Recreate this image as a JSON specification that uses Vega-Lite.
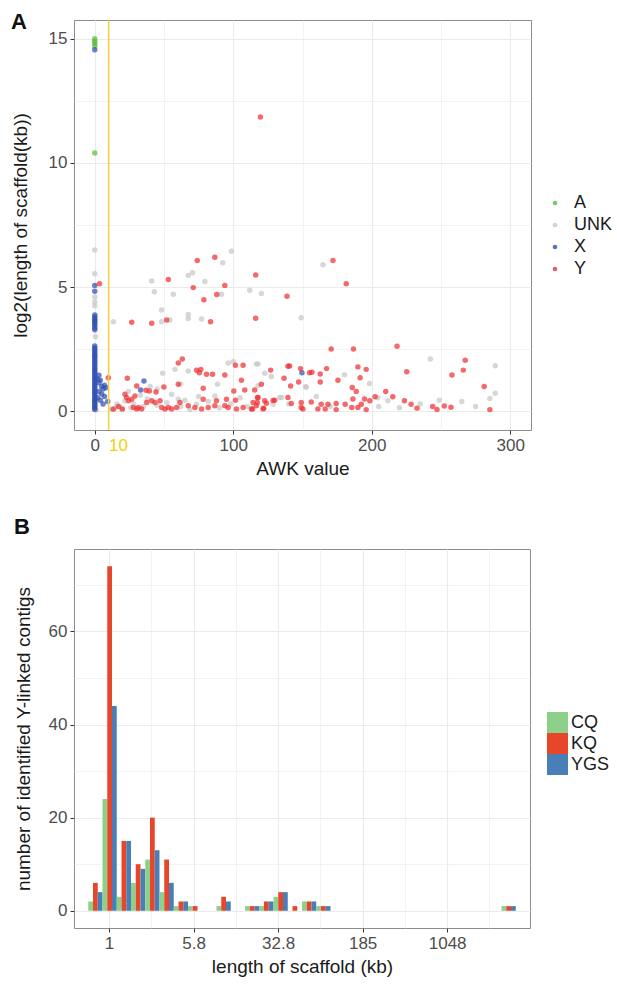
{
  "$schema": "https://vega.github.io/schema/vega-lite/v6.json",
  "padding": {"left": 10, "top": 10, "right": 5, "bottom": 5},
  "background": "white",
  "config": {
    "font": "Liberation Sans",
    "view": {"stroke": "#8c8c8c", "strokeWidth": 1},
    "axis": {"labelFontSize": 17, "labelColor": "#4d4d4d", "titleFontSize": 19, "titleFontWeight": "normal", "titleColor": "#1a1a1a", "gridColor": "#ebebeb", "domain": false, "tickColor": "#333333", "tickSize": 4, "labelPadding": 3},
    "legend": {"labelFontSize": 18, "labelColor": "#1a1a1a"},
    "title": {"fontSize": 22, "fontWeight": "bold", "anchor": "start", "color": "#111111"}
  },
  "spacing": 36,
  "resolve": {"scale": {"color": "independent"}, "legend": {"color": "independent"}},
  "vconcat": [
    {
      "title": {"text": "A", "frame": "bounds", "offset": 0, "dy": 15},
      "width": 457,
      "height": 410,
      "encoding": {
        "x": {
          "field": "awk", "type": "quantitative", "title": "AWK value",
          "scale": {"domain": [-15, 315], "nice": false, "zero": false},
          "axis": {
            "values": [0, 10, 50, 100, 150, 200, 250, 300],
            "labelExpr": "(datum.value == 50 || datum.value == 150 || datum.value == 250) ? '' : datum.label",
            "labelOverlap": false,
            "labelColor": {"condition": {"test": "datum.value == 10", "value": "#f2d200"}, "value": "#4d4d4d"},
            "labelAlign": {"condition": {"test": "datum.value == 10", "value": "left"}, "value": "center"},
            "gridColor": {"condition": {"test": "datum.value == 10", "value": "transparent"}, "value": "#ebebeb"},
            "gridWidth": {"condition": {"test": "datum.value % 100 != 0", "value": 0.6}, "value": 1.1},
            "tickColor": {"condition": {"test": "datum.value % 100 != 0", "value": "transparent"}, "value": "#333333"},
            "titlePadding": 6
          }
        }
      },
      "layer": [
        {
          "data": {"values": [
            {"awk": 0, "len": 6.49, "chr": "UNK"}, {"awk": 0, "len": 5.54, "chr": "UNK"}, {"awk": 0, "len": 4.6, "chr": "UNK"}, {"awk": 0, "len": 4.4, "chr": "UNK"}, {"awk": 0, "len": 4.25, "chr": "UNK"}, {"awk": 0.5, "len": 3.0, "chr": "UNK"}, {"awk": 0, "len": 2.2, "chr": "UNK"}, {"awk": 0, "len": 0.1, "chr": "UNK"}, {"awk": 0, "len": 0.2, "chr": "UNK"}, {"awk": 0.5, "len": 0.3, "chr": "UNK"}, {"awk": 1, "len": 0.05, "chr": "UNK"}, {"awk": 0, "len": 0.4, "chr": "UNK"},
            {"awk": 98.7, "len": 6.44, "chr": "UNK"}, {"awk": 92.4, "len": 5.98, "chr": "UNK"}, {"awk": 41.1, "len": 5.25, "chr": "UNK"}, {"awk": 43, "len": 4.81, "chr": "UNK"}, {"awk": 56.7, "len": 4.71, "chr": "UNK"}, {"awk": 67.5, "len": 5.47, "chr": "UNK"}, {"awk": 70.6, "len": 5.58, "chr": "UNK"}, {"awk": 79.5, "len": 5.23, "chr": "UNK"}, {"awk": 91.5, "len": 4.71, "chr": "UNK"}, {"awk": 111.9, "len": 4.87, "chr": "UNK"}, {"awk": 120.3, "len": 4.74, "chr": "UNK"}, {"awk": 48.3, "len": 4.08, "chr": "UNK"}, {"awk": 67.5, "len": 3.9, "chr": "UNK"}, {"awk": 67.5, "len": 3.74, "chr": "UNK"}, {"awk": 77.1, "len": 3.72, "chr": "UNK"}, {"awk": 54.3, "len": 3.68, "chr": "UNK"}, {"awk": 48.3, "len": 3.61, "chr": "UNK"}, {"awk": 13.4, "len": 3.61, "chr": "UNK"}, {"awk": 149, "len": 3.77, "chr": "UNK"}, {"awk": 164.8, "len": 5.9, "chr": "UNK"},
            {"awk": 49, "len": 1.53, "chr": "UNK"}, {"awk": 57.9, "len": 1.69, "chr": "UNK"}, {"awk": 67.5, "len": 1.62, "chr": "UNK"}, {"awk": 96.3, "len": 1.95, "chr": "UNK"}, {"awk": 117.9, "len": 1.91, "chr": "UNK"}, {"awk": 88.6, "len": 1.09, "chr": "UNK"}, {"awk": 122.7, "len": 1.53, "chr": "UNK"}, {"awk": 127.5, "len": 1.4, "chr": "UNK"}, {"awk": 133.5, "len": 0.56, "chr": "UNK"}, {"awk": 152.7, "len": 0.98, "chr": "UNK"}, {"awk": 55.5, "len": 0.69, "chr": "UNK"}, {"awk": 24.3, "len": 0.8, "chr": "UNK"}, {"awk": 60.3, "len": 0.49, "chr": "UNK"}, {"awk": 73.5, "len": 0.29, "chr": "UNK"}, {"awk": 86.7, "len": 0.62, "chr": "UNK"}, {"awk": 21.8, "len": 0.43, "chr": "UNK"}, {"awk": 19.4, "len": 0.07, "chr": "UNK"}, {"awk": 14.6, "len": 0.14, "chr": "UNK"}, {"awk": 68.7, "len": 0.07, "chr": "UNK"}, {"awk": 180.3, "len": 1.47, "chr": "UNK"}, {"awk": 198.4, "len": 1.12, "chr": "UNK"}, {"awk": 152.2, "len": 0.99, "chr": "UNK"}, {"awk": 242.3, "len": 2.11, "chr": "UNK"}, {"awk": 289.2, "len": 1.84, "chr": "UNK"}, {"awk": 289.2, "len": 0.73, "chr": "UNK"}, {"awk": 285.3, "len": 0.52, "chr": "UNK"}, {"awk": 211.6, "len": 0.43, "chr": "UNK"}, {"awk": 204.4, "len": 0.55, "chr": "UNK"}, {"awk": 248.8, "len": 0.45, "chr": "UNK"}, {"awk": 134.8, "len": 0.56, "chr": "UNK"}, {"awk": 128.7, "len": 0.29, "chr": "UNK"}, {"awk": 117.9, "len": 1.03, "chr": "UNK"}, {"awk": 116.7, "len": 1.91, "chr": "UNK"},
            {"awk": 12, "len": 0.1, "chr": "UNK"}, {"awk": 16, "len": 0.3, "chr": "UNK"}, {"awk": 18, "len": 0.2, "chr": "UNK"}, {"awk": 26, "len": 0.15, "chr": "UNK"}, {"awk": 28, "len": 0.3, "chr": "UNK"}, {"awk": 35, "len": 0.2, "chr": "UNK"}, {"awk": 38, "len": 0.5, "chr": "UNK"}, {"awk": 45, "len": 0.25, "chr": "UNK"}, {"awk": 52, "len": 0.35, "chr": "UNK"}, {"awk": 62, "len": 0.2, "chr": "UNK"}, {"awk": 65, "len": 0.45, "chr": "UNK"}, {"awk": 75, "len": 0.6, "chr": "UNK"}, {"awk": 82, "len": 0.4, "chr": "UNK"}, {"awk": 90, "len": 0.15, "chr": "UNK"}, {"awk": 98, "len": 0.3, "chr": "UNK"}, {"awk": 105, "len": 0.55, "chr": "UNK"}, {"awk": 110, "len": 0.2, "chr": "UNK"}, {"awk": 45, "len": 0.9, "chr": "UNK"}, {"awk": 33, "len": 0.65, "chr": "UNK"}, {"awk": 140, "len": 0.3, "chr": "UNK"}, {"awk": 160, "len": 0.6, "chr": "UNK"}, {"awk": 170, "len": 0.2, "chr": "UNK"}, {"awk": 205, "len": 0.2, "chr": "UNK"}, {"awk": 220, "len": 0.15, "chr": "UNK"}, {"awk": 235, "len": 0.3, "chr": "UNK"}, {"awk": 265, "len": 0.4, "chr": "UNK"}, {"awk": 275, "len": 0.2, "chr": "UNK"}, {"awk": 40, "len": 1.0, "chr": "UNK"}, {"awk": 100, "len": 2.0, "chr": "UNK"}, {"awk": 62, "len": 1.1, "chr": "UNK"},
            {"awk": 0, "len": 15.0, "chr": "A"}, {"awk": 0, "len": 14.9, "chr": "A"}, {"awk": 0, "len": 14.8, "chr": "A"}, {"awk": 0, "len": 14.7, "chr": "A"}, {"awk": 0, "len": 10.4, "chr": "A"},
            {"awk": 0, "len": 14.55, "chr": "X"}, {"awk": 0, "len": 5.07, "chr": "X"}, {"awk": 0, "len": 4.83, "chr": "X"}, {"awk": 0, "len": 3.88, "chr": "X"}, {"awk": 0, "len": 3.8, "chr": "X"}, {"awk": 0, "len": 3.72, "chr": "X"}, {"awk": 0, "len": 3.66, "chr": "X"}, {"awk": 0, "len": 3.6, "chr": "X"}, {"awk": 0, "len": 3.52, "chr": "X"}, {"awk": 0, "len": 3.45, "chr": "X"}, {"awk": 0, "len": 3.35, "chr": "X"}, {"awk": 0, "len": 3.28, "chr": "X"},
            {"awk": 0, "len": 2.63, "chr": "X"}, {"awk": 0, "len": 2.55, "chr": "X"}, {"awk": 0, "len": 2.47, "chr": "X"}, {"awk": 0, "len": 2.4, "chr": "X"}, {"awk": 0, "len": 2.32, "chr": "X"}, {"awk": 0, "len": 2.25, "chr": "X"}, {"awk": 0, "len": 2.18, "chr": "X"}, {"awk": 0, "len": 2.1, "chr": "X"}, {"awk": 0, "len": 2.02, "chr": "X"}, {"awk": 0, "len": 1.95, "chr": "X"}, {"awk": 0, "len": 1.88, "chr": "X"}, {"awk": 0, "len": 1.8, "chr": "X"}, {"awk": 0, "len": 1.72, "chr": "X"}, {"awk": 0, "len": 1.65, "chr": "X"}, {"awk": 0, "len": 1.58, "chr": "X"}, {"awk": 0, "len": 1.5, "chr": "X"}, {"awk": 0, "len": 1.42, "chr": "X"}, {"awk": 0, "len": 1.35, "chr": "X"}, {"awk": 0, "len": 1.28, "chr": "X"}, {"awk": 0, "len": 1.2, "chr": "X"}, {"awk": 0, "len": 1.12, "chr": "X"}, {"awk": 0, "len": 1.05, "chr": "X"}, {"awk": 0, "len": 0.98, "chr": "X"}, {"awk": 0, "len": 0.9, "chr": "X"}, {"awk": 0, "len": 0.82, "chr": "X"}, {"awk": 0, "len": 0.75, "chr": "X"}, {"awk": 0, "len": 0.68, "chr": "X"}, {"awk": 0, "len": 0.6, "chr": "X"}, {"awk": 0, "len": 0.52, "chr": "X"}, {"awk": 0, "len": 0.45, "chr": "X"}, {"awk": 0, "len": 0.38, "chr": "X"}, {"awk": 0, "len": 0.3, "chr": "X"}, {"awk": 0, "len": 0.22, "chr": "X"}, {"awk": 0, "len": 0.15, "chr": "X"}, {"awk": 0, "len": 0.08, "chr": "X"},
            {"awk": 2, "len": 1.3, "chr": "X"}, {"awk": 3, "len": 1.15, "chr": "X"}, {"awk": 4, "len": 1.25, "chr": "X"}, {"awk": 5, "len": 1.0, "chr": "X"}, {"awk": 6, "len": 0.9, "chr": "X"}, {"awk": 7, "len": 1.05, "chr": "X"}, {"awk": 8, "len": 0.95, "chr": "X"}, {"awk": 3, "len": 0.8, "chr": "X"}, {"awk": 5, "len": 0.7, "chr": "X"}, {"awk": 2, "len": 0.55, "chr": "X"}, {"awk": 4, "len": 0.45, "chr": "X"}, {"awk": 6, "len": 0.3, "chr": "X"}, {"awk": 7, "len": 0.6, "chr": "X"}, {"awk": 3, "len": 1.45, "chr": "X"}, {"awk": 9.4, "len": 0.4, "chr": "X"}, {"awk": 35.5, "len": 1.22, "chr": "X"}, {"awk": 33.1, "len": 0.86, "chr": "X"}, {"awk": 149.6, "len": 1.55, "chr": "X"},
            {"awk": 3.4, "len": 5.14, "chr": "Y"}, {"awk": 74, "len": 6.07, "chr": "Y"}, {"awk": 86.7, "len": 6.2, "chr": "Y"}, {"awk": 53.1, "len": 5.31, "chr": "Y"}, {"awk": 71.1, "len": 4.98, "chr": "Y"}, {"awk": 93.9, "len": 5.07, "chr": "Y"}, {"awk": 116.2, "len": 5.49, "chr": "Y"}, {"awk": 88.1, "len": 4.7, "chr": "Y"}, {"awk": 78.8, "len": 4.49, "chr": "Y"}, {"awk": 138.8, "len": 4.63, "chr": "Y"}, {"awk": 26.7, "len": 3.59, "chr": "Y"}, {"awk": 41.1, "len": 3.55, "chr": "Y"}, {"awk": 51.9, "len": 3.68, "chr": "Y"}, {"awk": 83.6, "len": 3.61, "chr": "Y"}, {"awk": 116.2, "len": 3.75, "chr": "Y"}, {"awk": 172, "len": 6.07, "chr": "Y"}, {"awk": 181.6, "len": 5.14, "chr": "Y"}, {"awk": 119.6, "len": 11.85, "chr": "Y"},
            {"awk": 9.8, "len": 1.35, "chr": "Y"}, {"awk": 23.5, "len": 1.33, "chr": "Y"}, {"awk": 30.3, "len": 1.02, "chr": "Y"}, {"awk": 37, "len": 0.85, "chr": "Y"}, {"awk": 39.4, "len": 0.82, "chr": "Y"}, {"awk": 44.2, "len": 0.78, "chr": "Y"}, {"awk": 49.9, "len": 0.98, "chr": "Y"}, {"awk": 60.3, "len": 1.95, "chr": "Y"}, {"awk": 63.2, "len": 2.11, "chr": "Y"}, {"awk": 60.3, "len": 1.09, "chr": "Y"}, {"awk": 73.5, "len": 1.65, "chr": "Y"}, {"awk": 76.6, "len": 1.69, "chr": "Y"}, {"awk": 75.5, "len": 1.55, "chr": "Y"}, {"awk": 80.7, "len": 1.49, "chr": "Y"}, {"awk": 85, "len": 1.49, "chr": "Y"}, {"awk": 78.3, "len": 0.93, "chr": "Y"}, {"awk": 93.9, "len": 1.46, "chr": "Y"}, {"awk": 101.6, "len": 1.86, "chr": "Y"}, {"awk": 107.1, "len": 1.86, "chr": "Y"}, {"awk": 105.9, "len": 1.25, "chr": "Y"}, {"awk": 100.4, "len": 0.82, "chr": "Y"}, {"awk": 108.3, "len": 0.86, "chr": "Y"}, {"awk": 115.5, "len": 0.86, "chr": "Y"}, {"awk": 120.3, "len": 1.09, "chr": "Y"}, {"awk": 127, "len": 1.66, "chr": "Y"}, {"awk": 136.7, "len": 1.33, "chr": "Y"}, {"awk": 139.5, "len": 1.82, "chr": "Y"}, {"awk": 140.7, "len": 1.83, "chr": "Y"}, {"awk": 141.4, "len": 1.02, "chr": "Y"}, {"awk": 147.2, "len": 1.18, "chr": "Y"}, {"awk": 148.6, "len": 1.72, "chr": "Y"}, {"awk": 155.1, "len": 1.55, "chr": "Y"}, {"awk": 156.8, "len": 1.57, "chr": "Y"}, {"awk": 162.8, "len": 1.5, "chr": "Y"}, {"awk": 162.8, "len": 1.18, "chr": "Y"}, {"awk": 167.4, "len": 1.72, "chr": "Y"}, {"awk": 170.7, "len": 2.51, "chr": "Y"}, {"awk": 186.8, "len": 2.51, "chr": "Y"}, {"awk": 218.3, "len": 2.62, "chr": "Y"}, {"awk": 267.5, "len": 2.06, "chr": "Y"}, {"awk": 266.1, "len": 1.66, "chr": "Y"}, {"awk": 257.9, "len": 1.46, "chr": "Y"}, {"awk": 225.3, "len": 1.59, "chr": "Y"}, {"awk": 281.2, "len": 1.0, "chr": "Y"}, {"awk": 175.6, "len": 1.25, "chr": "Y"}, {"awk": 190, "len": 1.79, "chr": "Y"}, {"awk": 191.6, "len": 1.35, "chr": "Y"}, {"awk": 196, "len": 1.69, "chr": "Y"}, {"awk": 185.9, "len": 0.96, "chr": "Y"}, {"awk": 188.8, "len": 0.8, "chr": "Y"},
            {"awk": 29, "len": 0.62, "chr": "Y"}, {"awk": 117.9, "len": 0.56, "chr": "Y"}, {"awk": 78.3, "len": 0.49, "chr": "Y"}, {"awk": 87.9, "len": 0.43, "chr": "Y"}, {"awk": 95.1, "len": 0.49, "chr": "Y"}, {"awk": 101.6, "len": 0.45, "chr": "Y"}, {"awk": 122.7, "len": 0.43, "chr": "Y"}, {"awk": 129.9, "len": 0.45, "chr": "Y"}, {"awk": 149.1, "len": 0.36, "chr": "Y"}, {"awk": 156.3, "len": 0.38, "chr": "Y"}, {"awk": 168.4, "len": 0.29, "chr": "Y"}, {"awk": 210.1, "len": 0.8, "chr": "Y"}, {"awk": 215.2, "len": 0.59, "chr": "Y"}, {"awk": 202.4, "len": 0.59, "chr": "Y"}, {"awk": 198.6, "len": 0.43, "chr": "Y"}, {"awk": 223.6, "len": 0.43, "chr": "Y"}, {"awk": 228.4, "len": 0.29, "chr": "Y"}, {"awk": 232.7, "len": 0.13, "chr": "Y"}, {"awk": 244, "len": 0.2, "chr": "Y"}, {"awk": 247.1, "len": 0.08, "chr": "Y"}, {"awk": 252.4, "len": 0.22, "chr": "Y"}, {"awk": 257.2, "len": 0.17, "chr": "Y"}, {"awk": 285.3, "len": 0.07, "chr": "Y"}, {"awk": 186.4, "len": 0.5, "chr": "Y"}, {"awk": 194.8, "len": 0.5, "chr": "Y"}, {"awk": 192.4, "len": 0.29, "chr": "Y"}, {"awk": 190, "len": 0.16, "chr": "Y"}, {"awk": 196, "len": 0.07, "chr": "Y"}, {"awk": 185.6, "len": 0.16, "chr": "Y"}, {"awk": 180.8, "len": 0.29, "chr": "Y"}, {"awk": 174.3, "len": 0.32, "chr": "Y"}, {"awk": 174.3, "len": 0.07, "chr": "Y"}, {"awk": 166.4, "len": 0.1, "chr": "Y"}, {"awk": 163.5, "len": 0.29, "chr": "Y"}, {"awk": 161.1, "len": 0.1, "chr": "Y"}, {"awk": 150.3, "len": 0.1, "chr": "Y"}, {"awk": 149, "len": 0.16, "chr": "Y"}, {"awk": 141.9, "len": 0.32, "chr": "Y"}, {"awk": 139.5, "len": 0.56, "chr": "Y"}, {"awk": 122, "len": 0.13, "chr": "Y"}, {"awk": 123.9, "len": 0.33, "chr": "Y"}, {"awk": 117.4, "len": 0.36, "chr": "Y"}, {"awk": 117.4, "len": 0.56, "chr": "Y"}, {"awk": 114, "len": 0.1, "chr": "Y"}, {"awk": 128.7, "len": 0.44, "chr": "Y"},
            {"awk": 24.3, "len": 0.43, "chr": "Y"}, {"awk": 27.9, "len": 0.16, "chr": "Y"}, {"awk": 30.3, "len": 0.1, "chr": "Y"}, {"awk": 31.5, "len": 0.16, "chr": "Y"}, {"awk": 33.9, "len": 0.1, "chr": "Y"}, {"awk": 41.1, "len": 0.43, "chr": "Y"}, {"awk": 43.5, "len": 0.36, "chr": "Y"}, {"awk": 47.1, "len": 0.43, "chr": "Y"}, {"awk": 48.3, "len": 0.16, "chr": "Y"}, {"awk": 50.7, "len": 0.1, "chr": "Y"}, {"awk": 53.1, "len": 0.16, "chr": "Y"}, {"awk": 55.5, "len": 0.1, "chr": "Y"}, {"awk": 59.1, "len": 0.16, "chr": "Y"}, {"awk": 67.5, "len": 0.23, "chr": "Y"}, {"awk": 72.3, "len": 0.16, "chr": "Y"}, {"awk": 77.1, "len": 0.1, "chr": "Y"}, {"awk": 81.9, "len": 0.16, "chr": "Y"}, {"awk": 86.7, "len": 0.23, "chr": "Y"}, {"awk": 93.9, "len": 0.23, "chr": "Y"}, {"awk": 96.3, "len": 0.16, "chr": "Y"}, {"awk": 102.3, "len": 0.1, "chr": "Y"}, {"awk": 107.1, "len": 0.16, "chr": "Y"}, {"awk": 113.1, "len": 0.1, "chr": "Y"}, {"awk": 114.3, "len": 0.36, "chr": "Y"}, {"awk": 116.7, "len": 0.23, "chr": "Y"}, {"awk": 121.5, "len": 0.1, "chr": "Y"}, {"awk": 21.8, "len": 0.69, "chr": "Y"}, {"awk": 26.7, "len": 0.49, "chr": "Y"}, {"awk": 37.5, "len": 0.36, "chr": "Y"}, {"awk": 61.5, "len": 0.36, "chr": "Y"}, {"awk": 13.4, "len": 0.09, "chr": "Y"}, {"awk": 23, "len": 0.56, "chr": "Y"}, {"awk": 20, "len": 0.1, "chr": "Y"}, {"awk": 17, "len": 0.2, "chr": "Y"}
          ]},
          "mark": {"type": "circle", "size": 30, "opacity": 0.72},
          "encoding": {
            "y": {
              "field": "len", "type": "quantitative", "title": "log2(length of scaffold(kb))",
              "scale": {"domain": [-0.75, 15.75], "nice": false, "zero": false},
              "axis": {
                "values": [0, 2.5, 5, 7.5, 10, 12.5, 15],
                "labelExpr": "datum.value % 5 == 0 ? datum.label : ''",
                "gridWidth": {"condition": {"test": "datum.value % 5 != 0", "value": 0.6}, "value": 1.1},
                "tickColor": {"condition": {"test": "datum.value % 5 != 0", "value": "transparent"}, "value": "#333333"},
                "titlePadding": 18
              }
            },
            "color": {
              "field": "chr", "type": "nominal",
              "scale": {"domain": ["A", "UNK", "X", "Y"], "range": ["#5dbb3f", "#c8c8c8", "#2f4fb3", "#ee2f33"]},
              "legend": {"title": null, "orient": "none", "legendX": 472, "legendY": 174, "symbolType": "circle", "symbolSize": 22, "labelOffset": 10, "rowPadding": 4, "labelFontSize": 18, "symbolOpacity": 0.8}
            }
          }
        },
        {
          "data": {"values": [{"awk": 10}]},
          "mark": {"type": "rule", "color": "#f7cf3d", "strokeWidth": 1.5},
          "encoding": {}
        }
      ]
    },
    {
      "title": {"text": "B", "frame": "bounds", "offset": 10},
      "width": 456,
      "height": 379,
      "data": {"values": [
        {"bin": 0, "log2_bin_start": -0.422, "series": "CQ", "count": 2}, {"bin": 0, "log2_bin_start": -0.422, "series": "KQ", "count": 6}, {"bin": 0, "log2_bin_start": -0.422, "series": "YGS", "count": 4},
        {"bin": 1, "log2_bin_start": -0.013, "series": "CQ", "count": 24}, {"bin": 1, "log2_bin_start": -0.013, "series": "KQ", "count": 74}, {"bin": 1, "log2_bin_start": -0.013, "series": "YGS", "count": 44},
        {"bin": 2, "log2_bin_start": 0.395, "series": "CQ", "count": 3}, {"bin": 2, "log2_bin_start": 0.395, "series": "KQ", "count": 15}, {"bin": 2, "log2_bin_start": 0.395, "series": "YGS", "count": 15},
        {"bin": 3, "log2_bin_start": 0.804, "series": "CQ", "count": 6}, {"bin": 3, "log2_bin_start": 0.804, "series": "KQ", "count": 10}, {"bin": 3, "log2_bin_start": 0.804, "series": "YGS", "count": 9},
        {"bin": 4, "log2_bin_start": 1.212, "series": "CQ", "count": 11}, {"bin": 4, "log2_bin_start": 1.212, "series": "KQ", "count": 20}, {"bin": 4, "log2_bin_start": 1.212, "series": "YGS", "count": 13},
        {"bin": 5, "log2_bin_start": 1.621, "series": "CQ", "count": 4}, {"bin": 5, "log2_bin_start": 1.621, "series": "KQ", "count": 11}, {"bin": 5, "log2_bin_start": 1.621, "series": "YGS", "count": 6},
        {"bin": 6, "log2_bin_start": 2.03, "series": "CQ", "count": 1}, {"bin": 6, "log2_bin_start": 2.03, "series": "KQ", "count": 2}, {"bin": 6, "log2_bin_start": 2.03, "series": "YGS", "count": 2},
        {"bin": 7, "log2_bin_start": 2.438, "series": "CQ", "count": 1}, {"bin": 7, "log2_bin_start": 2.438, "series": "KQ", "count": 1},
        {"bin": 9, "log2_bin_start": 3.255, "series": "CQ", "count": 1}, {"bin": 9, "log2_bin_start": 3.255, "series": "KQ", "count": 3}, {"bin": 9, "log2_bin_start": 3.255, "series": "YGS", "count": 2},
        {"bin": 11, "log2_bin_start": 4.073, "series": "CQ", "count": 1}, {"bin": 11, "log2_bin_start": 4.073, "series": "KQ", "count": 1}, {"bin": 11, "log2_bin_start": 4.073, "series": "YGS", "count": 1},
        {"bin": 12, "log2_bin_start": 4.481, "series": "CQ", "count": 1}, {"bin": 12, "log2_bin_start": 4.481, "series": "KQ", "count": 2}, {"bin": 12, "log2_bin_start": 4.481, "series": "YGS", "count": 2},
        {"bin": 13, "log2_bin_start": 4.89, "series": "CQ", "count": 3}, {"bin": 13, "log2_bin_start": 4.89, "series": "KQ", "count": 4}, {"bin": 13, "log2_bin_start": 4.89, "series": "YGS", "count": 4},
        {"bin": 14, "log2_bin_start": 5.298, "series": "KQ", "count": 1},
        {"bin": 15, "log2_bin_start": 5.707, "series": "CQ", "count": 2}, {"bin": 15, "log2_bin_start": 5.707, "series": "KQ", "count": 2}, {"bin": 15, "log2_bin_start": 5.707, "series": "YGS", "count": 2},
        {"bin": 16, "log2_bin_start": 6.116, "series": "CQ", "count": 1}, {"bin": 16, "log2_bin_start": 6.116, "series": "KQ", "count": 1}, {"bin": 16, "log2_bin_start": 6.116, "series": "YGS", "count": 1},
        {"bin": 29, "log2_bin_start": 11.427, "series": "CQ", "count": 1}, {"bin": 29, "log2_bin_start": 11.427, "series": "KQ", "count": 1}, {"bin": 29, "log2_bin_start": 11.427, "series": "YGS", "count": 1}
      ]},
      "layer": [
        {
          "mark": {"type": "point", "opacity": 0},
          "encoding": {
            "x": {
              "field": "log2_bin_start", "type": "quantitative", "title": "length of scaffold (kb)",
              "scale": {"domain": [-1.035, 12.45], "nice": false, "zero": false},
              "axis": {
                "values": [0, 1.25, 2.5, 3.75, 5, 6.25, 7.5, 8.75, 10, 11.25],
                "labelExpr": "datum.value == 0 ? '1' : datum.value == 2.5 ? '5.8' : datum.value == 5 ? '32.8' : datum.value == 7.5 ? '185' : datum.value == 10 ? '1048' : ''",
                "gridWidth": {"condition": {"test": "datum.value % 2.5 != 0", "value": 0.6}, "value": 1.1},
                "tickColor": {"condition": {"test": "datum.value % 2.5 != 0", "value": "transparent"}, "value": "#333333"},
                "labelOverlap": false,
                "titlePadding": 6
              }
            },
            "y": {
              "field": "count", "type": "quantitative", "title": "number of identified Y-linked contigs",
              "scale": {"domain": [-3.7, 77.7], "nice": false, "zero": false},
              "axis": {
                "values": [0, 10, 20, 30, 40, 50, 60, 70],
                "labelExpr": "datum.value % 20 == 0 ? datum.label : ''",
                "gridWidth": {"condition": {"test": "datum.value % 20 != 0", "value": 0.6}, "value": 1.1},
                "tickColor": {"condition": {"test": "datum.value % 20 != 0", "value": "transparent"}, "value": "#333333"},
                "titlePadding": 15
              }
            }
          }
        },
        {
          "mark": {"type": "bar"},
          "encoding": {
            "x": {"field": "bin", "type": "ordinal", "axis": null, "scale": {"domain": [0,1,2,3,4,5,6,7,8,9,10,11,12,13,14,15,16,17,18,19,20,21,22,23,24,25,26,27,28,29], "paddingInner": 0, "paddingOuter": 1.5}},
            "xOffset": {"field": "series", "type": "nominal", "scale": {"paddingInner": 0, "paddingOuter": 0}},
            "y": {"field": "count", "type": "quantitative", "title": "number of identified Y-linked contigs"},
            "y2": {"datum": 0},
            "color": {
              "field": "series", "type": "nominal",
              "scale": {"domain": ["CQ", "KQ", "YGS"], "range": ["#8dd08a", "#e8462a", "#4a7eb6"]},
              "legend": {"title": null, "orient": "none", "legendX": 473, "legendY": 163, "symbolType": "square", "symbolSize": 441, "symbolStrokeWidth": 0, "symbolOpacity": 1, "labelOffset": 3, "rowPadding": 0, "labelFontSize": 18}
            }
          }
        }
      ],
      "resolve": {"scale": {"x": "independent"}}
    }
  ]
}
